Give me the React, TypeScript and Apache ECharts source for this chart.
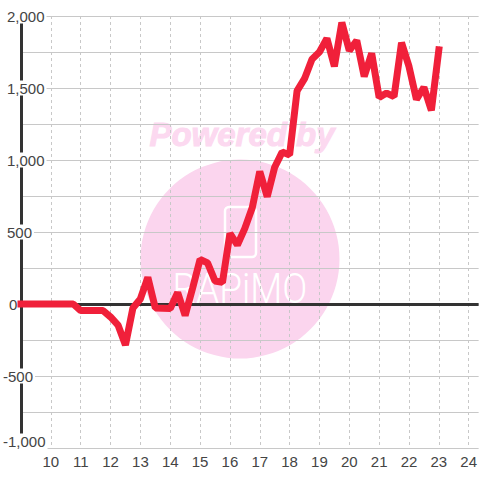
import React, { useEffect, useRef } from "react";
import * as echarts from "echarts";

const hours = [
  9, 9.25, 9.5, 9.75, 10, 10.25, 10.5, 10.75, 11, 11.25, 11.5, 11.75, 12, 12.25, 12.5, 12.75,
  13, 13.25, 13.5, 13.75, 14, 14.25, 14.5, 14.75, 15, 15.25, 15.5, 15.75, 16, 16.25, 16.5, 16.75,
  17, 17.25, 17.5, 17.75, 18, 18.25, 18.5, 18.75, 19, 19.25, 19.5, 19.75, 20, 20.25, 20.5, 20.75,
  21, 21.25, 21.5, 21.75, 22, 22.25, 22.5, 22.75, 23,
];
const values = [
  0, 0, 0, 0, 0, 0, 0, 0, -46, -46, -46, -46, -90, -146, -285, -28,
  35, 185, -28, -30, -32, 80, -80, 110, 310, 285, 160, 150, 490, 410, 525, 670,
  920, 745, 950, 1055, 1035, 1480, 1565, 1700, 1750, 1845, 1650, 1955, 1760, 1830, 1580, 1740,
  1435, 1465, 1440, 1815, 1650, 1420, 1505, 1345, 1765,
];
const yTicks = { min: -1000, max: 2000, step: 500 };
const xTicks = { min: 9, step: 1 };
const watermarkTitle = "Powered by";
const watermarkLogo = "RAPiMO";

const fmt = (v: number) => v.toLocaleString("en-US");

export default function App() {
  const ref = useRef<HTMLDivElement>(null);
  useEffect(() => {
    document.body.style.margin = "0";
    const chart = echarts.init(ref.current!, null, { renderer: "svg" });
    const left = 20;
    const xMax = xTicks.min + (480 - left) / 30;
    const labelBase = { fontSize: 15, color: "#444444", backgroundColor: "#ffffff", lineHeight: 14 };
    chart.setOption({
      animation: false,
      backgroundColor: "#ffffff",
      textStyle: { fontFamily: "Liberation Sans" },
      grid: { left, right: 0, top: 16, bottom: 32 },
      graphic: {
        elements: [
          { type: "circle", z: -10, silent: true, shape: { cx: 240, cy: 259, r: 99.5 }, style: { fill: "#fbd5ee" } },
          {
            type: "rect", z: -9, silent: true,
            shape: { x: 225, y: 207, width: 31, height: 50, r: 4 },
            style: { fill: "none", stroke: "#ffffff", lineWidth: 2.5 },
          },
          {
            type: "text", z: -9, silent: true, x: 240, y: 289, scaleY: 1.15,
            style: {
              text: watermarkLogo, fill: "#ffffff", align: "center", verticalAlign: "middle",
              font: "300 37px Roboto",
            },
          },
          {
            type: "text", z: -9, silent: true, x: 242, y: 134,
            style: {
              text: watermarkTitle, fill: "#fcd9f0", stroke: "#fcd9f0", lineWidth: 1, align: "center", verticalAlign: "middle",
              font: "italic bold 33px 'Liberation Sans'",
            },
          },
        ],
      },
      xAxis: {
        type: "value",
        min: xTicks.min,
        max: xMax,
        interval: xTicks.step,
        z: 1,
        axisLine: { show: false, onZero: false },
        axisTick: { show: false },
        axisLabel: {
          fontSize: 15, color: "#444444", margin: 6, showMinLabel: false, showMaxLabel: false,
          fontFamily: "Liberation Sans",
        },
        splitLine: {
          show: true, showMinLine: false, showMaxLine: false,
          lineStyle: { color: "#c8c8c8", width: 1, type: [3, 3] },
        },
      },
      yAxis: {
        type: "value",
        min: yTicks.min,
        max: yTicks.max,
        interval: yTicks.step,
        z: 1,
        minorTick: { show: false, splitNumber: 2 },
        minorSplitLine: { show: true, lineStyle: { color: "#c8c8c8", width: 1 } },
        splitLine: { show: true, lineStyle: { color: "#c8c8c8", width: 1 } },
        axisLine: { show: true, onZero: false, lineStyle: { color: "#333333", width: 3 } },
        axisTick: { show: false },
        axisLabel: {
          align: "left",
          margin: 18,
          fontSize: 15,
          fontFamily: "Liberation Sans",
          formatter: (v: number) =>
            v === yTicks.min ? `{b|${fmt(v)}}` : v < 0 ? `{n|${fmt(v)}}` : v === 0 ? `{z|${fmt(v)}}` : `{p|${fmt(v)}}`,
          rich: {
            b: { ...labelBase, padding: [0, 2, 14, 0] },
            n: { ...labelBase, padding: [0, 2, 0, 0] },
            z: { ...labelBase, padding: [0, 2, 0, 6] },
            p: { ...labelBase, padding: [0, 2, 0, 4] },
          },
        },
      },
      series: [
        {
          type: "line",
          data: hours.map((h, i) => [h, values[i]]),
          showSymbol: false,
          symbol: "none",
          clip: false,
          z: 5,
          lineStyle: { color: "#f0203a", width: 7, cap: "square", join: "bevel" },
          markLine: {
            silent: true,
            z: 1,
            symbol: "none",
            label: { show: false },
            lineStyle: { color: "#333333", width: 3, type: "solid" },
            data: [{ yAxis: 0 }],
          },
        },
      ],
    });
    return () => chart.dispose();
  }, []);
  return <div ref={ref} style={{ width: 480, height: 480 }} />;
}
